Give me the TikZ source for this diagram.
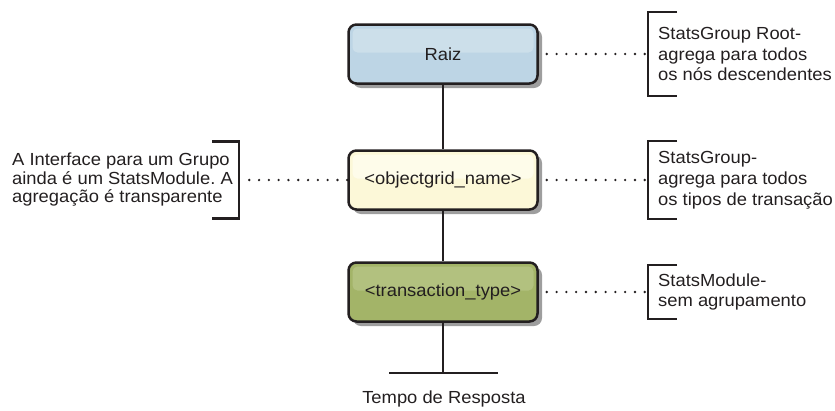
\documentclass[tikz,border=0pt]{standalone}
\usepackage{fontspec}
\setmainfont{Liberation Sans}[FakeStretch=1.05]
\usetikzlibrary{shadows}
\definecolor{ink}{HTML}{231F20}
\definecolor{blueA}{HTML}{BDD5E5}
\definecolor{blueB}{HTML}{CCDFEA}
\definecolor{yelA}{HTML}{FCF8D8}
\definecolor{yelB}{HTML}{FEFCEA}
\definecolor{grnA}{HTML}{A3B468}
\definecolor{grnB}{HTML}{B2C17F}
\frenchspacing
\begin{document}
\begin{tikzpicture}[x=1pt,y=-1pt,
  box/.style={draw=ink, line width=2.5pt, rounded corners=8pt,
    minimum width=189pt, minimum height=59pt, inner sep=0pt,
    font=\fontsize{17.5}{20}\selectfont, text=ink,
    drop shadow={shadow xshift=4.5pt, shadow yshift=-4.5pt, fill=black!38, opacity=1}},
  hl/.style={path picture={\fill[#1, rounded corners=5pt]
    ([shift={(4pt,-4pt)}]path picture bounding box.north west) rectangle
    ([shift={(-4pt,-28pt)}]path picture bounding box.north east);}},
  conn/.style={draw=ink, line width=2pt},
  dots/.style={draw=ink, line width=2.6pt, dash pattern=on 0pt off 9.8pt, line cap=round},
  brk/.style={draw=ink, line width=2.5pt},
  note/.style={align=left, inner xsep=10pt, inner ysep=0pt, text=ink,
    font=\fontsize{17.5}{20.8}\selectfont}
]
\useasboundingbox (0,0) rectangle (835,410);

% main boxes
\node[box, fill=blueA, hl=blueB] (raiz) at (443,54) {Raiz};
\node[box, fill=yelA, hl=yelB] (obj) at (443,180) {<objectgrid\_name>};
\node[box, fill=grnA, hl=grnB] (trans) at (443,292) {<transaction\_type>};

% vertical connectors
\draw[conn] (raiz) -- (obj);
\draw[conn] (obj) -- (trans);
\coordinate (bot) at (443,373);
\coordinate (botL) at (389,373);
\coordinate (botR) at (498,373);
\draw[conn] (trans) -- (bot);
\draw[conn] (botL) -- (botR);
\node[text=ink, font=\fontsize{17.5}{20}\selectfont] (resp) at (444,399) {Tempo de Resposta};

% right notes
\node[note, anchor=west, minimum height=84pt] (n1) at (648,54)
  {StatsGroup Root-\\agrega para todos\\os nós descendentes};
\node[note, anchor=west, minimum height=78pt] (n2) at (648,180)
  {StatsGroup-\\agrega para todos\\os tipos de transação};
\node[note, anchor=west, minimum height=54pt] (n3) at (648,292)
  {StatsModule-\\sem agrupamento};

% left note
\node[note, anchor=east, inner xsep=6pt, minimum height=77pt,
  font=\fontsize{17.5}{18.5}\selectfont] (n0) at (239,180)
  {A Interface para um Grupo\\ainda é um StatsModule. A\\agregação é transparente};

% brackets
\foreach \n in {n1,n2,n3}{
  \draw[brk] ([xshift=29pt]\n.north west) -- (\n.north west) -- (\n.south west) -- ([xshift=29pt]\n.south west);
}
\draw[brk] ([xshift=-27pt]n0.north east) -- (n0.north east) -- (n0.south east) -- ([xshift=-27pt]n0.south east);

% dotted leaders
\draw[dots] ([xshift=8pt]raiz.east) -- (n1.west);
\draw[dots] ([xshift=8pt]obj.east) -- (n2.west);
\draw[dots] ([xshift=8pt]trans.east) -- (n3.west);
\draw[dots] (obj.west) -- ([xshift=4pt]n0.east);
\end{tikzpicture}
\end{document}
